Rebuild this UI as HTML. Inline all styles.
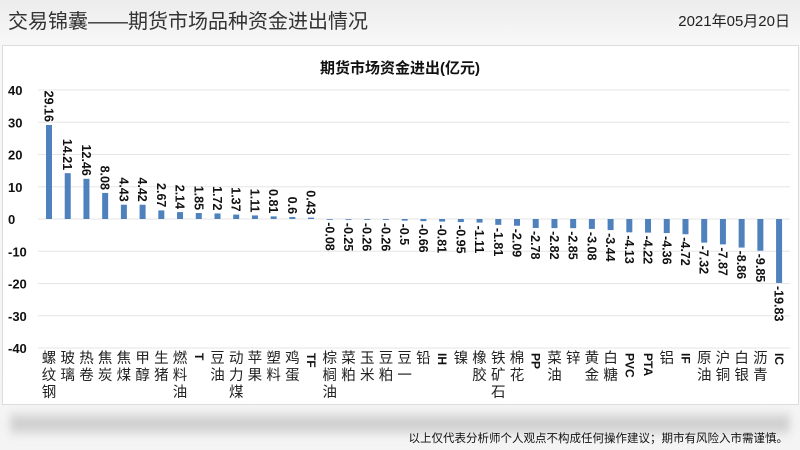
<!DOCTYPE html>
<html><head><meta charset="utf-8"><style>
body{margin:0;width:800px;height:450px;overflow:hidden;background:#f2f2f2;font-family:"Liberation Sans","Noto Sans CJK SC",sans-serif;}
#wrap{position:relative;width:800px;height:450px;background:linear-gradient(#ececec,#f7f7f7 40px,#f4f4f4);}
#title{position:absolute;left:8px;top:5px;font-size:20px;color:#333;}
#date{position:absolute;right:10px;top:10px;font-size:15px;color:#222;}
#box{position:absolute;left:2px;top:45px;width:795px;height:358px;background:#fff;border:1px solid #ddd;}
#smudge{position:absolute;left:10px;top:410px;width:780px;height:26px;background:linear-gradient(#f0f0f0,#c4c4c4 50%,#e6e6e6);filter:blur(4px);opacity:.85}
#note{position:absolute;right:12px;top:430px;font-size:11.5px;color:#111;}
svg{position:absolute;left:0;top:0}
</style></head><body><div id="wrap">
<div id="title">交易锦囊——期货市场品种资金进出情况</div>
<div id="date">2021年05月20日</div>
<div id="box"></div>
<div id="smudge"></div>
<div id="note">以上仅代表分析师个人观点不构成任何操作建议；期市有风险入市需谨慎。</div>
<svg id="s" width="800" height="450" xmlns="http://www.w3.org/2000/svg"></svg>
</div>
<script>
var v=[29.16,14.21,12.46,8.08,4.43,4.42,2.67,2.14,1.85,1.72,1.37,1.11,0.81,0.6,0.43,-0.08,-0.25,-0.26,-0.26,-0.5,-0.66,-0.81,-0.95,-1.11,-1.81,-2.09,-2.78,-2.82,-2.85,-3.08,-3.44,-4.13,-4.22,-4.36,-4.72,-7.32,-7.87,-8.86,-9.85,-19.83];
var n="螺纹钢,玻璃,热卷,焦炭,焦煤,甲醇,生猪,燃料油,T,豆油,动力煤,苹果,塑料,鸡蛋,TF,棕榈油,菜粕,玉米,豆粕,豆一,铅,IH,镍,橡胶,铁矿石,棉花,PP,菜油,锌,黄金,白糖,PVC,PTA,铝,IF,原油,沪铜,白银,沥青,IC".split(",");
var h='<text x="400" y="73" font-size="15" font-weight="bold" text-anchor="middle" fill="#111" font-family="Liberation Sans,Noto Sans CJK SC,sans-serif">期货市场资金进出(亿元)</text>';
var z=219,k=3.225;
for(var g=-40;g<=40;g+=10){var y=z-g*k;
 h+='<line x1="38" x2="790" y1="'+y+'" y2="'+y+'" stroke="#e6e6e6"/>';
 h+='<text x="8" y="'+(y+5)+'" font-size="13" font-weight="bold" fill="#111">'+g+'</text>';}
for(var i=0;i<40;i++){var x=49+i*18.72,val=v[i],t=val>=0?z-val*k:z,hh=Math.abs(val)*k;
 h+='<rect x="'+(x-3)+'" y="'+t+'" width="6" height="'+Math.max(hh,0.8)+'" fill="#4f81bd"/>';
 var ly=val>=0?t-3:t+hh+3,anc=val>=0?'end':'start';
 h+='<text transform="translate('+(x-4.5)+','+ly+') rotate(90)" font-size="12.5" font-weight="bold" text-anchor="'+anc+'" fill="#111">'+val+'</text>';
 var nm=n[i];
 if(/^[A-Z]+$/.test(nm)){h+='<text transform="translate('+(x-4)+',353) rotate(90)" font-size="12" font-weight="bold" fill="#111">'+nm+'</text>';}
 else{for(var j=0;j<nm.length;j++)h+='<text x="'+x+'" y="'+(363+j*17)+'" font-size="14.5" text-anchor="middle" fill="#222" font-family="Noto Sans CJK SC,sans-serif">'+nm[j]+'</text>';}
}
document.getElementById('s').innerHTML=h;
</script></body></html>
